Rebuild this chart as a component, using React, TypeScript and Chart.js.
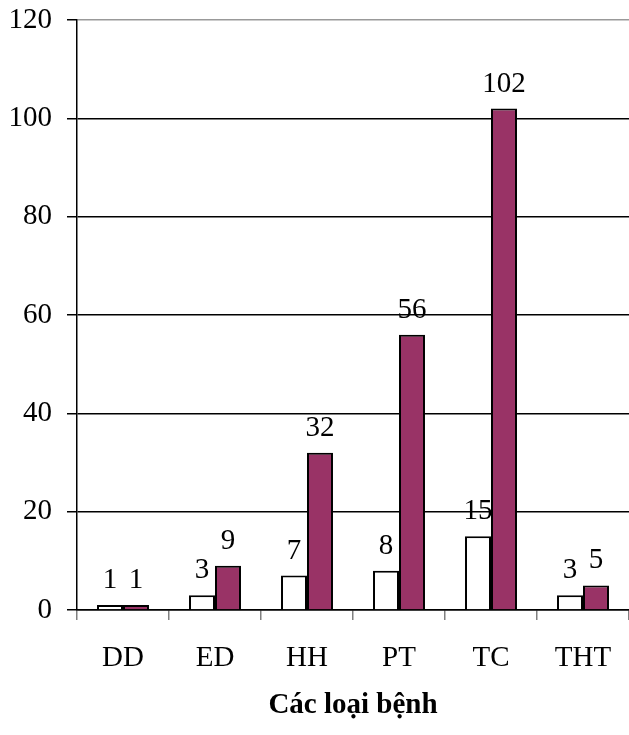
import React, { useEffect, useRef } from "react";
import { Chart, registerables } from "chart.js";

Chart.register(...registerables);

const categories = ["DD", "ED", "HH", "PT", "TC", "THT"];
const seriesA = [1, 3, 7, 8, 15, 3];
const seriesB = [1, 9, 32, 56, 102, 5];
const yTicks = [0, 20, 40, 60, 80, 100, 120];
const axisTitle = "Các loại bệnh";

const FONT = "'Liberation Serif', 'Times New Roman', serif";
const FS = 29;

const labelPlugin = {
  id: "barLabels",
  afterDatasetsDraw(chart: any) {
    const ctx = chart.ctx;
    ctx.save();
    ctx.fillStyle = "#000";
    ctx.font = `${FS}px ${FONT}`;
    ctx.textAlign = "center";
    ctx.textBaseline = "alphabetic";
    chart.data.datasets.forEach((ds: any, di: number) => {
      const meta = chart.getDatasetMeta(di);
      meta.data.forEach((bar: any, i: number) => {
        ctx.fillText(String(ds.data[i]), bar.x, bar.y - 17);
      });
    });
    ctx.restore();
  },
};

export default function App() {
  const ref = useRef<HTMLCanvasElement>(null);
  useEffect(() => {
    document.body.style.margin = "0";
    const chart = new Chart(ref.current!, {
      type: "bar",
      data: {
        labels: categories,
        datasets: [
          {
            label: "A",
            data: seriesA,
            backgroundColor: "#ffffff",
            borderColor: "#000000",
            borderWidth: 2,
            categoryPercentage: 0.565,
            barPercentage: 1,
          },
          {
            label: "B",
            data: seriesB,
            backgroundColor: "#993366",
            borderColor: "#000000",
            borderWidth: 2,
            categoryPercentage: 0.565,
            barPercentage: 1,
          },
        ],
      },
      options: {
        animation: false,
        responsive: false,
        maintainAspectRatio: false,
        layout: { padding: { top: 20, right: 0, left: 0, bottom: 0 } },
        plugins: { legend: { display: false }, tooltip: { enabled: false } },
        scales: {
          x: {
            grid: {
              display: true,
              drawOnChartArea: false,
              drawTicks: true,
              tickLength: 10,
              color: "#808080",
              lineWidth: 1.5,
            },
            border: { display: true, color: "#000", width: 1.5 },
            ticks: {
              color: "#000",
              font: { family: FONT, size: FS },
              padding: 21,
              maxRotation: 0,
            },
            title: {
              display: true,
              text: axisTitle,
              color: "#000",
              font: { family: FONT, size: FS, weight: "bold" },
              padding: { top: 10, bottom: 12 },
            },
            afterFit(scale: any) {
              scale.height = 125;
              scale.paddingLeft = 0;
              scale.paddingRight = 0;
            },
          },
          y: {
            min: 0,
            max: 120,
            afterBuildTicks(scale: any) {
              scale.ticks = yTicks.map((v) => ({ value: v }));
            },
            grid: {
              color: (c: any) => (c.tick && c.tick.value === 120 ? "#999999" : "#000000"),
              lineWidth: 1.5,
              tickLength: 10,
              tickColor: "#000",
            },
            border: { display: true, color: "#000", width: 1.5 },
            ticks: {
              color: "#000",
              font: { family: FONT, size: FS },
              padding: 15,
            },
            afterFit(scale: any) {
              scale.width = 77;
              scale.paddingTop = 0;
              scale.paddingBottom = 0;
            },
          },
        },
      },
      plugins: [labelPlugin],
    } as any);
    return () => chart.destroy();
  }, []);
  return (
    <div style={{ width: 629, height: 735 }}>
      <canvas ref={ref} width={629} height={735} style={{ display: "block" }} />
    </div>
  );
}
